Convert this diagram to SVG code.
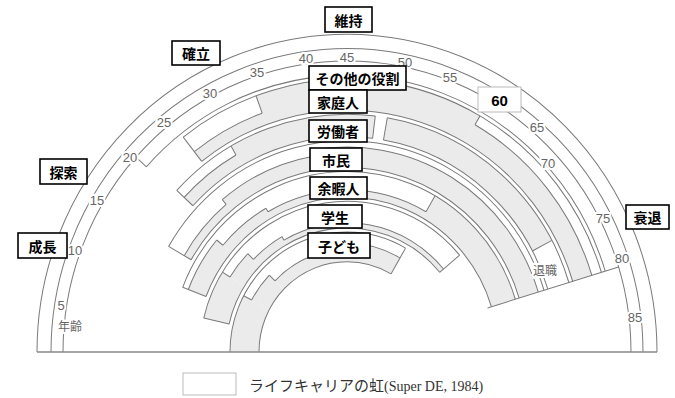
<svg xmlns="http://www.w3.org/2000/svg" width="675" height="398" viewBox="0 0 675 398">
<style>
.ln{fill:none;stroke:#7a7a7a;stroke-width:1}
.g{fill:none;stroke:#ebebeb}
.age{font-family:"Liberation Sans",Arial,sans-serif;font-size:13px;fill:#666;stroke:#fff;stroke-width:4;paint-order:stroke;text-anchor:middle;dominant-baseline:central}
.box{fill:#fff;stroke:#000;stroke-width:1.6}
.lbl{font-family:"Noto Sans CJK JP",sans-serif;font-size:14px;font-weight:bold;fill:#000;text-anchor:middle;dominant-baseline:central}
</style>
<rect width="675" height="398" fill="#fff"/>
<g transform="translate(347,352) scale(1,1.025)">
<g id="grey">
<circle class="g" r="102.5" stroke-width="29" pathLength="360" stroke-dasharray="28 400" transform="rotate(180)"/>
<circle class="g" r="98" stroke-width="20" pathLength="360" stroke-dasharray="16 400" transform="rotate(208)"/>
<circle class="g" r="94" stroke-width="12" pathLength="360" stroke-dasharray="36 400" transform="rotate(224)"/>
<circle class="g" r="97" stroke-width="18" pathLength="360" stroke-dasharray="40 400" transform="rotate(260)"/>
<circle class="g" r="134" stroke-width="26" pathLength="360" stroke-dasharray="19 400" transform="rotate(193)"/>
<circle class="g" r="129.5" stroke-width="17" pathLength="360" stroke-dasharray="12 400" transform="rotate(212)"/>
<circle class="g" r="125.5" stroke-width="9" pathLength="360" stroke-dasharray="16 400" transform="rotate(224)"/>
<circle class="g" r="123.5" stroke-width="5" pathLength="360" stroke-dasharray="80 400" transform="rotate(240)"/>
<circle class="g" r="160.5" stroke-width="19" pathLength="360" stroke-dasharray="19 400" transform="rotate(201)"/>
<circle class="g" r="156.5" stroke-width="11" pathLength="360" stroke-dasharray="20 400" transform="rotate(220)"/>
<circle class="g" r="154.5" stroke-width="7" pathLength="360" stroke-dasharray="60 400" transform="rotate(240)"/>
<circle class="g" r="163.5" stroke-width="25" pathLength="360" stroke-dasharray="43 400" transform="rotate(300)"/>
<circle class="g" r="184" stroke-width="8" pathLength="360" stroke-dasharray="20 400" transform="rotate(210)"/>
<circle class="g" r="187" stroke-width="14" pathLength="360" stroke-dasharray="30 400" transform="rotate(230)"/>
<circle class="g" r="190" stroke-width="20" pathLength="360" stroke-dasharray="83 400" transform="rotate(260)"/>
<circle class="g" r="216" stroke-width="12" pathLength="360" stroke-dasharray="17.2 400" transform="rotate(222.8)"/>
<circle class="g" r="221" stroke-width="22" pathLength="360" stroke-dasharray="37 400" transform="rotate(240)"/>
<circle class="g" r="221" stroke-width="22" pathLength="360" stroke-dasharray="52 400" transform="rotate(280)"/>
<circle class="g" r="242" stroke-width="12" pathLength="360" stroke-dasharray="18 400" transform="rotate(232)"/>
<circle class="g" r="251" stroke-width="30" pathLength="360" stroke-dasharray="50 400" transform="rotate(250)"/>
<circle class="g" r="246" stroke-width="20" pathLength="360" stroke-dasharray="43 400" transform="rotate(300)"/>
</g>
<g id="connectors">
<circle class="ln" r="310" pathLength="360" stroke-dasharray="180 400" transform="rotate(180)"/>
<circle class="ln" r="296" pathLength="360" stroke-dasharray="180 400" transform="rotate(180)"/>
<circle class="ln" r="284" pathLength="360" stroke-dasharray="180 400" transform="rotate(180)"/>
<circle class="ln" r="117" pathLength="360" stroke-dasharray="120 400" transform="rotate(180)"/>
<circle class="ln" r="88" pathLength="360" stroke-dasharray="120 400" transform="rotate(180)"/>
<line class="ln" x1="-88" x2="-117" transform="rotate(120)"/>
<line class="ln" x1="-108" x2="-117" transform="rotate(28)"/>
<circle class="ln" r="108" pathLength="360" stroke-dasharray="16 400" transform="rotate(208)"/>
<line class="ln" x1="-100" x2="-108" transform="rotate(44)"/>
<circle class="ln" r="100" pathLength="360" stroke-dasharray="36 400" transform="rotate(224)"/>
<line class="ln" x1="-100" x2="-106" transform="rotate(80)"/>
<circle class="ln" r="106" pathLength="360" stroke-dasharray="40 400" transform="rotate(260)"/>
<circle class="ln" r="147" pathLength="360" stroke-dasharray="127 400" transform="rotate(193)"/>
<circle class="ln" r="121" pathLength="360" stroke-dasharray="127 400" transform="rotate(193)"/>
<line class="ln" x1="-121" x2="-147" transform="rotate(13)"/>
<line class="ln" x1="-121" x2="-147" transform="rotate(140)"/>
<line class="ln" x1="-138" x2="-147" transform="rotate(32)"/>
<circle class="ln" r="138" pathLength="360" stroke-dasharray="12 400" transform="rotate(212)"/>
<line class="ln" x1="-130" x2="-138" transform="rotate(44)"/>
<circle class="ln" r="130" pathLength="360" stroke-dasharray="16 400" transform="rotate(224)"/>
<line class="ln" x1="-126" x2="-130" transform="rotate(60)"/>
<circle class="ln" r="126" pathLength="360" stroke-dasharray="80 400" transform="rotate(240)"/>
<circle class="ln" r="176" pathLength="360" stroke-dasharray="142 400" transform="rotate(201)"/>
<circle class="ln" r="151" pathLength="360" stroke-dasharray="142 400" transform="rotate(201)"/>
<line class="ln" x1="-151" x2="-176" transform="rotate(21)"/>
<circle class="ln" r="170" pathLength="360" stroke-dasharray="19 400" transform="rotate(201)"/>
<line class="ln" x1="-162" x2="-170" transform="rotate(40)"/>
<circle class="ln" r="162" pathLength="360" stroke-dasharray="20 400" transform="rotate(220)"/>
<line class="ln" x1="-158" x2="-162" transform="rotate(60)"/>
<circle class="ln" r="158" pathLength="360" stroke-dasharray="60 400" transform="rotate(240)"/>
<line class="ln" x1="-158" x2="-176" transform="rotate(120)"/>
<circle class="ln" r="206" pathLength="360" stroke-dasharray="133 400" transform="rotate(210)"/>
<circle class="ln" r="180" pathLength="360" stroke-dasharray="133 400" transform="rotate(210)"/>
<line class="ln" x1="-180" x2="-206" transform="rotate(30)"/>
<circle class="ln" r="188" pathLength="360" stroke-dasharray="20 400" transform="rotate(210)"/>
<line class="ln" x1="-188" x2="-194" transform="rotate(50)"/>
<circle class="ln" r="194" pathLength="360" stroke-dasharray="30 400" transform="rotate(230)"/>
<line class="ln" x1="-194" x2="-200" transform="rotate(80)"/>
<circle class="ln" r="200" pathLength="360" stroke-dasharray="83 400" transform="rotate(260)"/>
<circle class="ln" r="232" pathLength="360" stroke-dasharray="54.2 400" transform="rotate(222.8)"/>
<circle class="ln" r="210" pathLength="360" stroke-dasharray="54.2 400" transform="rotate(222.8)"/>
<line class="ln" x1="-210" x2="-232" transform="rotate(42.8)"/>
<line class="ln" x1="-210" x2="-232" transform="rotate(97)"/>
<circle class="ln" r="232" pathLength="360" stroke-dasharray="63 400" transform="rotate(280)"/>
<circle class="ln" r="210" pathLength="360" stroke-dasharray="63 400" transform="rotate(280)"/>
<line class="ln" x1="-210" x2="-232" transform="rotate(100)"/>
<circle class="ln" r="222" pathLength="360" stroke-dasharray="17.2 400" transform="rotate(222.8)"/>
<line class="ln" x1="-222" x2="-232" transform="rotate(60)"/>
<line class="ln" x1="-210" x2="-232" transform="rotate(152)"/>
<circle class="ln" r="266" pathLength="360" stroke-dasharray="111 400" transform="rotate(232)"/>
<circle class="ln" r="236" pathLength="360" stroke-dasharray="111 400" transform="rotate(232)"/>
<line class="ln" x1="-236" x2="-266" transform="rotate(52)"/>
<circle class="ln" r="248" pathLength="360" stroke-dasharray="18 400" transform="rotate(232)"/>
<line class="ln" x1="-248" x2="-266" transform="rotate(70)"/>
<line class="ln" x1="-256" x2="-266" transform="rotate(120)"/>
<circle class="ln" r="256" pathLength="360" stroke-dasharray="43 400" transform="rotate(300)"/>
<circle class="ln" r="270" pathLength="360" stroke-dasharray="121 400" transform="rotate(222)"/>
<line class="ln" x1="-270" x2="-284" transform="rotate(42)"/>
<line class="ln" x1="-147" x2="-284" transform="rotate(163)"/>
</g>
</g>
<line x1="37" y1="352" x2="657" y2="352" stroke="#888" stroke-width="1.5"/>
<g id="ages">
<text class="age" x="61" y="305">5</text>
<text class="age" x="75" y="250">10</text>
<text class="age" x="97" y="200">15</text>
<text class="age" x="130" y="157">20</text>
<text class="age" x="164" y="122">25</text>
<text class="age" x="210" y="93">30</text>
<text class="age" x="257" y="72">35</text>
<text class="age" x="306" y="58">40</text>
<text class="age" x="347" y="57">45</text>
<text class="age" x="405" y="62">50</text>
<text class="age" x="450" y="77">55</text>
<text class="age" x="537" y="127">65</text>
<text class="age" x="548" y="163">70</text>
<text class="age" x="603" y="218">75</text>
<text class="age" x="622" y="258">80</text>
<text class="age" x="635" y="317">85</text>
<text class="age" x="70" y="325" style="font-family:'Noto Sans CJK JP',sans-serif;font-size:12px">年齢</text>
<text class="age" x="545" y="269" style="font-family:'Noto Sans CJK JP',sans-serif;font-size:12px">退職</text>
</g>
<g id="age60"><rect x="478" y="87" width="43" height="25" fill="#fff" stroke="#bbb"/><text x="499.5" y="100" class="lbl" style="font-family:'Liberation Sans',Arial,sans-serif;font-size:15px">60</text></g>
<g id="stage-maintain"><rect class="box" x="325" y="7" width="47" height="25"/><text class="lbl" x="348.5" y="19.5">維持</text></g>
<g id="stage-establish"><rect class="box" x="172" y="41" width="48" height="24"/><text class="lbl" x="196" y="53">確立</text></g>
<g id="stage-explore"><rect class="box" x="40" y="159" width="47" height="25"/><text class="lbl" x="63.5" y="171.5">探索</text></g>
<g id="stage-growth"><rect class="box" x="18" y="233" width="49" height="25"/><text class="lbl" x="42.5" y="245.5">成長</text></g>
<g id="stage-decline"><rect class="box" x="626" y="205" width="43" height="24"/><text class="lbl" x="647.5" y="217">衰退</text></g>
<g id="role-other"><rect class="box" x="309" y="66" width="97" height="24"/><text class="lbl" x="357.5" y="78">その他の役割</text></g>
<g id="role-home"><rect class="box" x="309" y="90" width="58" height="23"/><text class="lbl" x="338" y="101.5">家庭人</text></g>
<g id="role-worker"><rect class="box" x="309" y="120" width="58" height="22"/><text class="lbl" x="338" y="131">労働者</text></g>
<g id="role-citizen"><rect class="box" x="310" y="148" width="52" height="23"/><text class="lbl" x="336" y="159.5">市民</text></g>
<g id="role-leisure"><rect class="box" x="310" y="177" width="57" height="22"/><text class="lbl" x="338.5" y="188">余暇人</text></g>
<g id="role-student"><rect class="box" x="308" y="205" width="54" height="23"/><text class="lbl" x="335" y="216.5">学生</text></g>
<g id="role-child"><rect class="box" x="308" y="233" width="62" height="25"/><text class="lbl" x="339" y="245.5">子ども</text></g>
<g id="legend"><rect x="183" y="373" width="53" height="22" fill="#fff" stroke="#bbb"/>
<text x="249" y="391" font-family="'Noto Sans CJK JP',sans-serif" font-size="15" fill="#333">ライフキャリアの虹<tspan font-family="'Liberation Serif',serif" font-size="14">(Super DE, 1984)</tspan></text></g>
</svg>
